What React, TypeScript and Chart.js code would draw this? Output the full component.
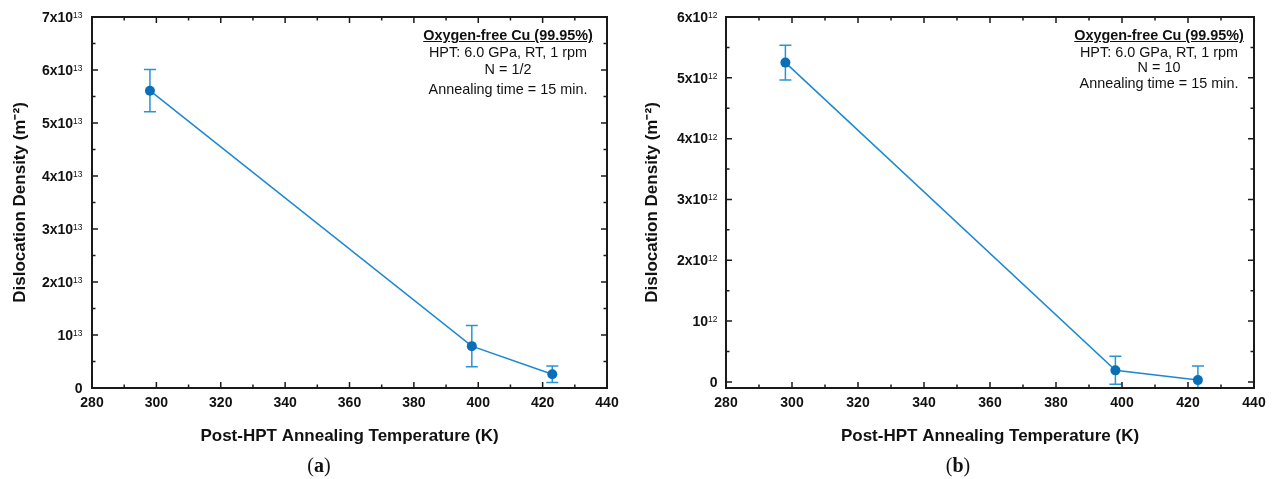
import React, { useEffect, useRef } from "react";
import { Chart, registerables } from "chart.js";

Chart.register(...registerables);

// ---- data ----
const temperatureA = [298, 398, 423];
const densityA = [5.61e13, 0.79e13, 0.26e13];
const errorA = [0.4e13, 0.39e13, 0.155e13];

const temperatureB = [298, 398, 423];
const densityB = [5.25e12, 0.19e12, 0.03e12];
const errorB = [0.285e12, 0.23e12, 0.23e12];

const xTicks = [280, 300, 320, 340, 360, 380, 400, 420, 440];
const yTicksA = [0, 1e13, 2e13, 3e13, 4e13, 5e13, 6e13, 7e13];
const yLabelsA = ["0", "10", "2x10", "3x10", "4x10", "5x10", "6x10", "7x10"];
const yExponentA = "13";
const yTicksB = [0, 1e12, 2e12, 3e12, 4e12, 5e12, 6e12];
const yLabelsB = ["0", "10", "2x10", "3x10", "4x10", "5x10", "6x10"];
const yExponentB = "12";

const xTitle = "Post-HPT Annealing Temperature (K)";
const yTitle = "Dislocation Density (m⁻²)";
const noteTitle = "Oxygen-free Cu (99.95%)";
const notesA = ["HPT: 6.0 GPa, RT, 1 rpm", "N = 1/2", "Annealing time = 15 min."];
const notesB = ["HPT: 6.0 GPa, RT, 1 rpm", "N = 10", "Annealing time = 15 min."];
const captions = ["a", "b"];

const FONT = "'Liberation Sans', Arial, sans-serif";
const LINE = "#1c88d2";
const ERR = "#2a93d6";
const MARK = "#0b6fb8";
const AXIS = "#1a1a1a";
const TEXT = "#111";

type Panel = {
  width: number;
  temps: number[];
  values: number[];
  errors: number[];
  yMin: number;
  yMax: number;
  yTicks: number[];
  yLabels: string[];
  yExponent: string;
  yAxisWidth: number;
  yTickPad: number;
  yTitlePad: number;
  padRight: number;
};

const panelA: Panel = {
  width: 635,
  temps: temperatureA,
  values: densityA,
  errors: errorA,
  yMin: 0,
  yMax: 7e13,
  yTicks: yTicksA,
  yLabels: yLabelsA,
  yExponent: yExponentA,
  yAxisWidth: 92,
  yTickPad: 9.5,
  yTitlePad: 10,
  padRight: 28,
};

const panelB: Panel = {
  width: 640,
  temps: temperatureB,
  values: densityB,
  errors: errorB,
  yMin: -1e11,
  yMax: 6e12,
  yTicks: yTicksB,
  yLabels: yLabelsB,
  yExponent: yExponentB,
  yAxisWidth: 91,
  yTickPad: 8.5,
  yTitlePad: 7,
  padRight: 21,
};

function ChartPanel({ p }: { p: Panel }) {
  const ref = useRef<HTMLCanvasElement | null>(null);
  useEffect(() => {
    if (!ref.current) return;
    const plugin = {
      id: "frameAndErrors",
      beforeDatasetsDraw(chart: any) {
        const { ctx, chartArea } = chart;
        const xs = chart.scales.x;
        const ys = chart.scales.y;
        ctx.save();
        ctx.beginPath();
        ctx.rect(chartArea.left, chartArea.top, chartArea.right - chartArea.left, chartArea.bottom - chartArea.top);
        ctx.clip();
        ctx.strokeStyle = ERR;
        ctx.lineWidth = 1.5;
        p.temps.forEach((t, i) => {
          const x = xs.getPixelForValue(t);
          const y1 = ys.getPixelForValue(p.values[i] + p.errors[i]);
          const y2 = ys.getPixelForValue(p.values[i] - p.errors[i]);
          ctx.beginPath();
          ctx.moveTo(x, y1);
          ctx.lineTo(x, y2);
          ctx.moveTo(x - 6, y1);
          ctx.lineTo(x + 6, y1);
          ctx.moveTo(x - 6, y2);
          ctx.lineTo(x + 6, y2);
          ctx.stroke();
        });
        ctx.restore();
      },
      afterDraw(chart: any) {
        const { ctx, chartArea } = chart;
        const { left, right, top, bottom } = chartArea;
        const xs = chart.scales.x;
        const ys = chart.scales.y;
        ctx.save();
        ctx.strokeStyle = AXIS;
        ctx.lineWidth = 2;
        ctx.strokeRect(left, top, right - left, bottom - top);
        ctx.lineWidth = 1.5;
        ctx.beginPath();
        const major = 6;
        const minor = 3.5;
        xTicks.forEach((v, i) => {
          const x = xs.getPixelForValue(v);
          ctx.moveTo(x, bottom);
          ctx.lineTo(x, bottom - major);
          ctx.moveTo(x, top);
          ctx.lineTo(x, top + major);
          if (i < xTicks.length - 1) {
            const xm = xs.getPixelForValue((v + xTicks[i + 1]) / 2);
            ctx.moveTo(xm, bottom);
            ctx.lineTo(xm, bottom - minor);
            ctx.moveTo(xm, top);
            ctx.lineTo(xm, top + minor);
          }
        });
        p.yTicks.forEach((v, i) => {
          const y = ys.getPixelForValue(v);
          ctx.moveTo(left, y);
          ctx.lineTo(left + major, y);
          ctx.moveTo(right, y);
          ctx.lineTo(right - major, y);
          if (i < p.yTicks.length - 1) {
            const ym = ys.getPixelForValue((v + p.yTicks[i + 1]) / 2);
            ctx.moveTo(left, ym);
            ctx.lineTo(left + minor, ym);
            ctx.moveTo(right, ym);
            ctx.lineTo(right - minor, ym);
          }
        });
        ctx.stroke();

        // y tick labels with superscript exponents
        const edge = left - p.yTickPad;
        p.yTicks.forEach((v, i) => {
          const y = ys.getPixelForValue(v);
          const main = p.yLabels[i];
          const hasExp = main !== "0";
          ctx.font = `normal 8.5px ${FONT}`;
          const ew = hasExp ? ctx.measureText(p.yExponent).width : 0;
          ctx.fillStyle = TEXT;
          if (hasExp) {
            ctx.textAlign = "left";
            ctx.textBaseline = "alphabetic";
            ctx.fillText(p.yExponent, edge - ew, y + 1);
          }
          ctx.font = `bold 14px ${FONT}`;
          ctx.textAlign = "right";
          ctx.textBaseline = "middle";
          ctx.fillText(main, edge - ew, y + 1);
        });
        ctx.restore();
      },
    };

    const chart = new Chart(ref.current, {
      type: "scatter",
      data: {
        datasets: [
          {
            data: p.temps.map((t, i) => ({ x: t, y: p.values[i] })),
            showLine: true,
            borderColor: LINE,
            borderWidth: 1.5,
            pointRadius: 5,
            pointBackgroundColor: MARK,
            pointBorderWidth: 0,
            pointBorderColor: MARK,
          },
        ],
      },
      options: {
        animation: false,
        responsive: false,
        layout: { padding: { left: 0, top: 17, right: p.padRight, bottom: 0 } },
        plugins: { legend: { display: false }, tooltip: { enabled: false } },
        scales: {
          x: {
            type: "linear",
            min: 280,
            max: 440,
            grid: { display: false, drawTicks: false },
            border: { display: false },
            afterBuildTicks: (s: any) => {
              s.ticks = xTicks.map((v) => ({ value: v }));
            },
            afterFit: (s: any) => {
              s.height = 91;
            },
            ticks: {
              padding: 7,
              color: TEXT,
              font: { family: FONT, size: 14, weight: "bold" },
              callback: (v: any) => String(v),
            },
            title: {
              display: true,
              text: xTitle,
              color: TEXT,
              padding: { top: 0, bottom: 32 },
              font: { family: FONT, size: 17, weight: "bold" },
            },
          },
          y: {
            type: "linear",
            min: p.yMin,
            max: p.yMax,
            grid: { display: false, drawTicks: false },
            border: { display: false },
            afterBuildTicks: (s: any) => {
              s.ticks = p.yTicks.map((v) => ({ value: v }));
            },
            afterFit: (s: any) => {
              s.width = p.yAxisWidth;
            },
            ticks: { display: false },
            title: {
              display: true,
              text: yTitle,
              color: TEXT,
              padding: { top: p.yTitlePad, bottom: 0 },
              font: { family: FONT, size: 17, weight: "bold" },
            },
          },
        },
      },
      plugins: [plugin],
    } as any);
    return () => chart.destroy();
  }, [p]);
  return <canvas ref={ref} width={p.width} height={479} style={{ display: "block", width: p.width, height: 479 }} />;
}

function Notes({ cx, ys, lines }: { cx: number; ys: number[]; lines: string[] }) {
  const base: React.CSSProperties = {
    position: "absolute",
    left: cx - 150,
    width: 300,
    textAlign: "center",
    fontFamily: FONT,
    fontSize: 14.4,
    lineHeight: "16px",
    color: TEXT,
    whiteSpace: "nowrap",
  };
  return (
    <>
      <div style={{ ...base, top: ys[0] - 8, fontWeight: "bold", textDecoration: "underline" }}>{noteTitle}</div>
      {lines.map((l, i) => (
        <div key={i} style={{ ...base, top: ys[i + 1] - 8 }}>
          {l}
        </div>
      ))}
    </>
  );
}

function Caption({ cx, letter }: { cx: number; letter: string }) {
  return (
    <div
      style={{
        position: "absolute",
        left: cx - 40,
        width: 80,
        top: 453,
        textAlign: "center",
        fontFamily: "'Liberation Serif', 'DejaVu Serif', serif",
        fontSize: 20,
        lineHeight: "24px",
        color: TEXT,
      }}
    >
      (<b>{letter}</b>)
    </div>
  );
}

export default function App() {
  return (
    <div style={{ position: "absolute", left: 0, top: 0, width: 1275, height: 479, background: "#fff", overflow: "hidden" }}>
      <div style={{ position: "absolute", left: 0, top: 0 }}>
        <ChartPanel p={panelA} />
      </div>
      <div style={{ position: "absolute", left: 635, top: 0 }}>
        <ChartPanel p={panelB} />
      </div>
      <Notes cx={508} ys={[35, 52, 69, 89]} lines={notesA} />
      <Notes cx={1159} ys={[35, 52, 67, 83]} lines={notesB} />
      <Caption cx={319} letter={captions[0]} />
      <Caption cx={958} letter={captions[1]} />
    </div>
  );
}
